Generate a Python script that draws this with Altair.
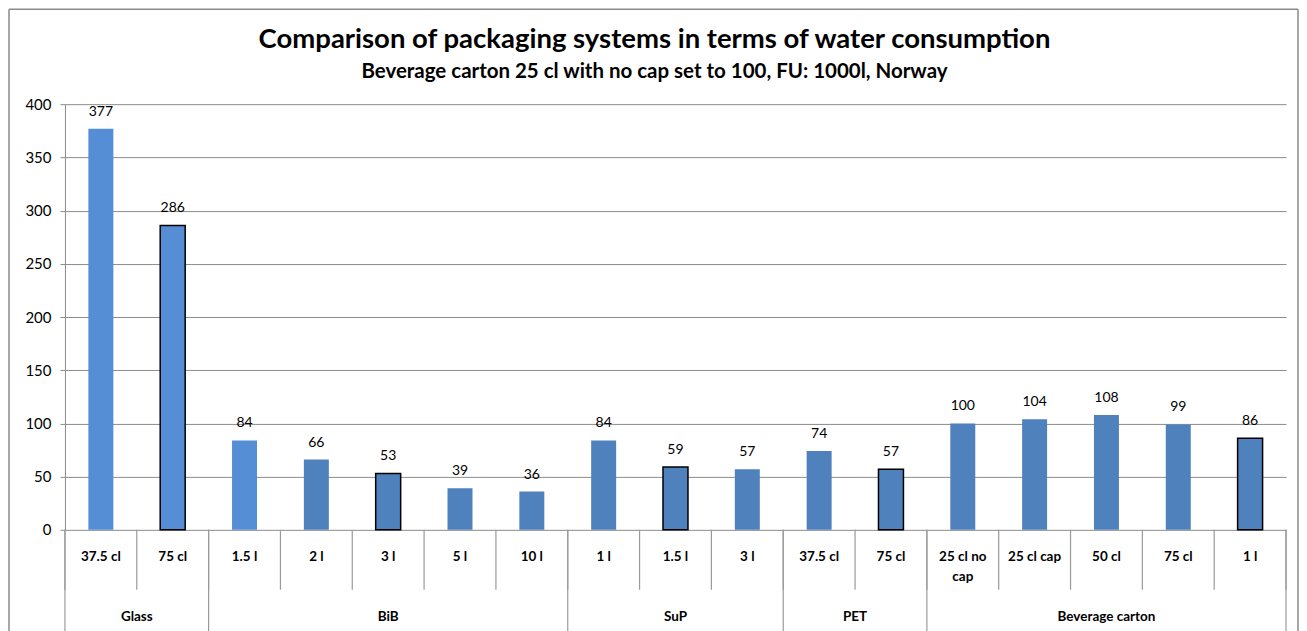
import altair as alt
import pandas as pd

title_text = "Comparison of packaging systems in terms of water consumption"
subtitle_text = "Beverage carton 25 cl with no cap set to 100, FU: 1000l, Norway"

groups = ["Glass", "Glass", "BiB", "BiB", "BiB", "BiB", "BiB", "SuP", "SuP", "SuP",
          "PET", "PET", "Beverage carton", "Beverage carton", "Beverage carton",
          "Beverage carton", "Beverage carton"]
sizes = ["37.5 cl", "75 cl", "1.5 l", "2 l", "3 l", "5 l", "10 l", "1 l", "1.5 l", "3 l",
         "37.5 cl", "75 cl", "25 cl no\ncap", "25 cl cap", "50 cl", "75 cl", "1 l"]
values = [377, 286, 84, 66, 53, 39, 36, 84, 59, 57, 74, 57, 100, 104, 108, 99, 86]
shade = ["light", "light", "light"] + ["dark"] * 14
outlined = [0, 1, 0, 0, 1, 0, 0, 0, 1, 0, 0, 1, 0, 0, 0, 0, 1]

FONT = "Lato"
W, H = 1222, 426

df = pd.DataFrame({"group": groups, "size": sizes, "value": values,
                   "shade": shade, "outlined": outlined})
df["idx"] = range(len(df))
df["pos"] = df["idx"] + 0.5

cat_bounds = pd.DataFrame({"b": list(range(len(df) + 1))})
gb = [0]
for i in range(1, len(groups)):
    if groups[i] != groups[i - 1]:
        gb.append(i)
gb.append(len(groups))
grp_bounds = pd.DataFrame({"b": gb})
grp_df = df.groupby("group", sort=False)["pos"].mean().reset_index()

xs = alt.Scale(domain=[0, len(df)], nice=False, zero=False, padding=0)

one = alt.Data(values=[{}])
frame_left = alt.Chart(one).mark_rule(color="#8a8a8a", strokeWidth=1.5).encode(
    x=alt.value(-56), y=alt.value(-95), y2=alt.value(540))
frame_right = alt.Chart(one).mark_rule(color="#8a8a8a", strokeWidth=1.5).encode(
    x=alt.value(W + 12), y=alt.value(-95), y2=alt.value(540))
frame_top = alt.Chart(one).mark_rule(color="#8a8a8a", strokeWidth=1.5).encode(
    x=alt.value(-56), x2=alt.value(W + 12), y=alt.value(-95))

title = alt.Chart(alt.Data(values=[{"t": title_text}])).mark_text(
    fontSize=27.5, fontWeight="bold", font=FONT, color="#000", baseline="middle", align="center"
).encode(x=alt.value(590), y=alt.value(-64), text="t:N")

subtitle = alt.Chart(alt.Data(values=[{"t": subtitle_text}])).mark_text(
    fontSize=20.5, fontWeight="bold", font=FONT, color="#000", baseline="middle", align="center"
).encode(x=alt.value(590), y=alt.value(-32), text="t:N")

bars = alt.Chart(df).mark_bar(width=25).encode(
    x=alt.X("pos:Q", scale=xs, axis=None),
    y=alt.Y("value:Q", scale=alt.Scale(domain=[0, 400], nice=False),
            axis=alt.Axis(values=list(range(0, 401, 50)), grid=True, gridColor="#8c8c8c",
                          domainColor="#8c8c8c", tickColor="#8c8c8c", tickSize=5,
                          labelFontSize=15, labelFont=FONT, labelColor="#000",
                          labelPadding=9, title=None)),
    color=alt.Color("shade:N", scale=alt.Scale(domain=["light", "dark"],
                                               range=["#558ED5", "#4F81BD"]), legend=None),
    stroke=alt.condition("datum.outlined == 1", alt.value("#000"), alt.value("transparent")),
    strokeWidth=alt.value(1.5),
)

labels = alt.Chart(df).mark_text(baseline="bottom", dy=-10, fontSize=14, font=FONT,
                                 color="#000").encode(
    x=alt.X("pos:Q", scale=xs), y="value:Q", text="value:Q")

cat_rules = alt.Chart(cat_bounds).mark_rule(color="#9a9a9a", strokeWidth=1.2).encode(
    x=alt.X("b:Q", scale=xs), y=alt.value(H), y2=alt.value(H + 60))
grp_rules = alt.Chart(grp_bounds).mark_rule(color="#9a9a9a", strokeWidth=1.2).encode(
    x=alt.X("b:Q", scale=xs), y=alt.value(H), y2=alt.value(H + 110))

cat_text = alt.Chart(df).mark_text(baseline="middle", fontSize=13.5, fontWeight="bold",
                                   font=FONT, color="#000", lineBreak="\n",
                                   lineHeight=20).encode(
    x=alt.X("pos:Q", scale=xs), y=alt.value(H + 27), text="size:N")

grp_text = alt.Chart(grp_df).mark_text(baseline="middle", fontSize=13.5, fontWeight="bold",
                                       font=FONT, color="#000").encode(
    x=alt.X("pos:Q", scale=xs), y=alt.value(H + 87), text="group:N")

chart = alt.layer(frame_left, frame_right, frame_top, title, subtitle, bars, labels,
                  cat_rules, grp_rules, cat_text, grp_text).properties(
    width=W, height=H, padding=0,
).configure_view(stroke=None)

chart.save("out.html", embed_options={"renderer": "svg", "actions": False})
